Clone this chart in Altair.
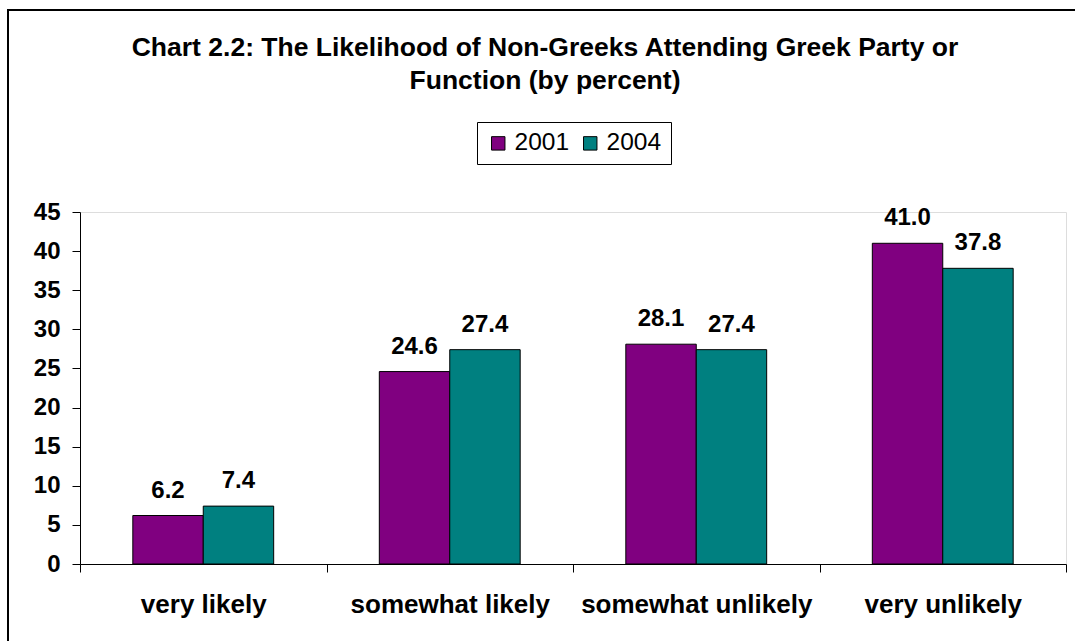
import altair as alt
import pandas as pd

categories = ["very likely", "somewhat likely", "somewhat unlikely", "very unlikely"]
years = ["2001", "2004"]
values_2001 = [6.2, 24.6, 28.1, 41.0]
values_2004 = [7.4, 27.4, 27.4, 37.8]
y_ticks = [0, 5, 10, 15, 20, 25, 30, 35, 40, 45]
colors = ["#800080", "#008080"]

rows = []
for c, a, b in zip(categories, values_2001, values_2004):
    rows.append({"category": c, "year": "2001", "value": a})
    rows.append({"category": c, "year": "2004", "value": b})
df = pd.DataFrame(rows)

FONT = "Liberation Sans"
W, H = 986, 352

x_enc = alt.X("category:N", sort=categories,
              scale=alt.Scale(paddingInner=0, paddingOuter=0),
              axis=alt.Axis(title=None, labelAngle=0, labelFontSize=26, labelFontWeight="bold",
                            labelFont=FONT, labelColor="black", labelPadding=19,
                            tickBand="extent", tickSize=8, tickColor="black",
                            domainColor="black", labelLimit=400))
xo_enc = alt.XOffset("year:N", sort=years,
                     scale=alt.Scale(paddingOuter=0.75, paddingInner=0))
y_enc = alt.Y("value:Q", scale=alt.Scale(domain=[0, 45], nice=False),
              axis=alt.Axis(title=None, values=y_ticks, grid=False, labelFontSize=24,
                            labelFontWeight="bold", labelFont=FONT, labelColor="black",
                            tickSize=8, tickColor="black", domainColor="black",
                            labelPadding=12, labelOverlap=False))

bars = alt.Chart(df).mark_bar(stroke="black", strokeWidth=1).encode(
    x=x_enc,
    xOffset=xo_enc,
    y=y_enc,
    color=alt.Color("year:N", sort=years,
                    scale=alt.Scale(domain=years, range=colors),
                    legend=alt.Legend(title=None, orient="none", legendX=397, legendY=-90,
                                      direction="horizontal", symbolType="square",
                                      symbolSize=180, symbolStrokeColor="black",
                                      symbolStrokeWidth=1, labelFontSize=24.5, labelFont=FONT,
                                      labelColor="black", strokeColor="black",
                                      fillColor="white", padding=9, columnPadding=8,
                                      labelOffset=4)),
)

labels = alt.Chart(df).mark_text(baseline="alphabetic", dy=-18, fontSize=24,
                                 fontWeight="bold", font=FONT, color="black").encode(
    x=x_enc,
    xOffset=xo_enc,
    y=y_enc,
    text=alt.Text("value:Q", format=".1f"),
)

frame = alt.Chart(df).mark_rect(fill=None, stroke="black", strokeWidth=2).encode(
    x=alt.value(-72), x2=alt.value(1010), y=alt.value(-202), y2=alt.value(440)
)

chart = alt.layer(frame, bars, labels).properties(
    width=W, height=H,
    title=alt.TitleParams(
        text=["Chart 2.2: The Likelihood of Non-Greeks Attending Greek Party or",
              "Function (by percent)"],
        fontSize=26.5, fontWeight="bold", font=FONT, color="black",
        anchor="middle", frame="group", dx=-28, offset=-85, lineHeight=33,
    ),
    autosize=alt.AutoSizeParams(type="none"),
    padding={"left": 80, "top": 212, "right": 9, "bottom": 77},
).configure_view(stroke=None).configure(background="white")

chart.save("out.html", embed_options={"renderer": "svg", "actions": False})
